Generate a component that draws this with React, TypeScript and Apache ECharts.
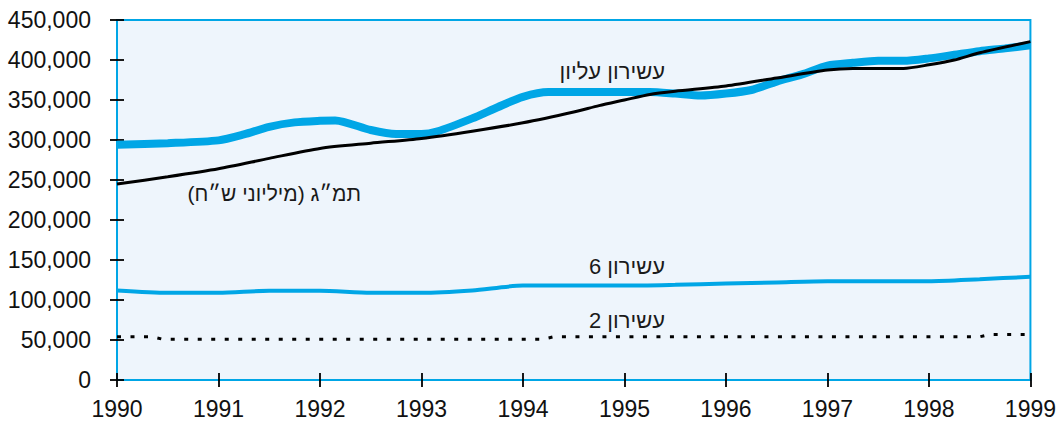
import React, { useEffect, useRef } from "react";
import * as echarts from "echarts";

// ---- data ----
const yTickLabels = ["0", "50,000", "100,000", "150,000", "200,000", "250,000", "300,000", "350,000", "400,000", "450,000"];
const xTickLabels = ["1990", "1991", "1992", "1993", "1994", "1995", "1996", "1997", "1998", "1999"];

const topYears = [1990, 1990.5, 1991, 1991.25, 1991.5, 1991.75, 1992, 1992.15, 1992.5, 1992.75, 1993, 1993.15, 1993.5, 1993.75, 1994, 1994.25, 1995.25, 1995.5, 1995.75, 1996, 1996.25, 1996.5, 1996.75, 1997, 1997.25, 1997.5, 1997.75, 1998, 1998.25, 1998.5, 1998.75, 1999];
const topValues = [294000, 296000, 299500, 307000, 316500, 322000, 324000, 324500, 312500, 307500, 307500, 310500, 327000, 341000, 354000, 360000, 360000, 358000, 355500, 358000, 362500, 373000, 382000, 393000, 396500, 399000, 399000, 402000, 406500, 411000, 414500, 418500];

const gdpYears = [1990, 1990.5, 1991, 1991.5, 1992, 1992.5, 1993, 1993.5, 1994, 1994.5, 1994.75, 1995, 1995.25, 1995.5, 1996, 1996.5, 1997, 1997.25, 1997.75, 1998, 1998.25, 1998.5, 1999];
const gdpValues = [245000, 254000, 264000, 277000, 289500, 296000, 302000, 311000, 321500, 335000, 343000, 350000, 357000, 361000, 367500, 377500, 387500, 389500, 389500, 394000, 400000, 409000, 423000];

const d6Years = [1990, 1990.5, 1991, 1991.5, 1992, 1992.5, 1993, 1993.5, 1994, 1994.5, 1995, 1995.5, 1996, 1996.5, 1997, 1997.5, 1998, 1998.5, 1999];
const d6Values = [112000, 109000, 109000, 111500, 111500, 109000, 109000, 112000, 118000, 118000, 118000, 119000, 120500, 122000, 123500, 123500, 123500, 126000, 129000];

const d2Years = [1990, 1990.35, 1990.45, 1994.2, 1994.3, 1998.5, 1998.6, 1999];
const d2Values = [54000, 54000, 51000, 51000, 54000, 54000, 57000, 57000];

const labelTop = "עשירון עליון";
const labelGdp = "תמ״ג (מיליוני ש״ח)\u200F";
const labelD6 = "עשירון 6";
const labelD2 = "עשירון 2";

const BLUE = "#00a6e6";
const FONT = "Liberation Sans, Arial, sans-serif";

const pair = (xs: number[], ys: number[]) => xs.map((x, i) => [x, ys[i]]);

export default function App() {
  const ref = useRef<HTMLDivElement>(null);
  useEffect(() => {
    if (!ref.current) return;
    const chart = echarts.init(ref.current, undefined, { renderer: "svg" });
    const xMin = Number(xTickLabels[0]);
    const xMax = Number(xTickLabels[xTickLabels.length - 1]);
    const yMax = 450000;
    const baseX = {
      type: "value" as const,
      min: xMin,
      max: xMax,
      interval: 1,
      position: "bottom" as const,
      axisLine: { show: false },
      splitLine: { show: false },
    };
    const baseY = {
      type: "value" as const,
      min: 0,
      max: yMax,
      interval: 50000,
      position: "left" as const,
      axisLine: { show: false },
      splitLine: { show: false },
    };
    const tickStyle = { color: "#000", width: 1.8 };
    const smoothLine = { showSymbol: false, smooth: 0.25 };
    chart.setOption({
      animation: false,
      grid: {
        left: 117,
        right: 25,
        top: 20,
        bottom: 41,
        show: true,
        backgroundColor: "#eef5fc",
        borderColor: BLUE,
        borderWidth: 2,
      },
      xAxis: [
        {
          ...baseX,
          axisTick: { show: true, length: 7, lineStyle: tickStyle },
          axisLabel: {
            formatter: (v: number) => xTickLabels[Math.round(v - xMin)] ?? String(v),
            fontSize: 23,
            color: "#111",
            fontFamily: FONT,
            margin: 17,
          },
        },
        {
          ...baseX,
          axisTick: { show: true, inside: true, length: 7, lineStyle: tickStyle },
          axisLabel: { show: false },
        },
      ],
      yAxis: [
        {
          ...baseY,
          axisTick: { show: true, length: 7, lineStyle: tickStyle },
          axisLabel: {
            formatter: (v: number) => yTickLabels[Math.round(v / 50000)] ?? String(v),
            fontSize: 23,
            color: "#111",
            fontFamily: FONT,
            margin: 26,
          },
        },
        {
          ...baseY,
          axisTick: { show: true, inside: true, length: 7, lineStyle: tickStyle },
          axisLabel: { show: false },
        },
      ],
      series: [
        {
          type: "line",
          data: pair(d2Years, d2Values),
          showSymbol: false,
          lineStyle: { color: "#000", width: 3, type: [4, 9.5] },
          z: 2,
        },
        {
          type: "line",
          data: pair(d6Years, d6Values),
          ...smoothLine,
          lineStyle: { color: BLUE, width: 4 },
          z: 2,
        },
        {
          type: "line",
          data: pair(topYears, topValues),
          ...smoothLine,
          lineStyle: { color: BLUE, width: 8 },
          z: 3,
        },
        {
          type: "line",
          data: pair(gdpYears, gdpValues),
          ...smoothLine,
          lineStyle: { color: "#000", width: 3 },
          z: 4,
        },
      ],
      graphic: [
        { type: "text", x: 665, y: 71, style: { text: labelTop, fill: "#1a1a1a", font: `22px ${FONT}`, textAlign: "right", textVerticalAlign: "middle" } },
        { type: "text", x: 361, y: 193, style: { text: labelGdp, fill: "#1a1a1a", font: `21px ${FONT}`, textAlign: "right", textVerticalAlign: "middle" } },
        { type: "text", x: 665, y: 266, style: { text: labelD6, fill: "#1a1a1a", font: `22px ${FONT}`, textAlign: "right", textVerticalAlign: "middle" } },
        { type: "text", x: 665, y: 320, style: { text: labelD2, fill: "#1a1a1a", font: `22px ${FONT}`, textAlign: "right", textVerticalAlign: "middle" } },
      ],
    });
    return () => chart.dispose();
  }, []);
  return (
    <div
      ref={ref}
      style={{ position: "fixed", left: 0, top: 0, width: 1059, height: 421, background: "#fff" }}
    />
  );
}
